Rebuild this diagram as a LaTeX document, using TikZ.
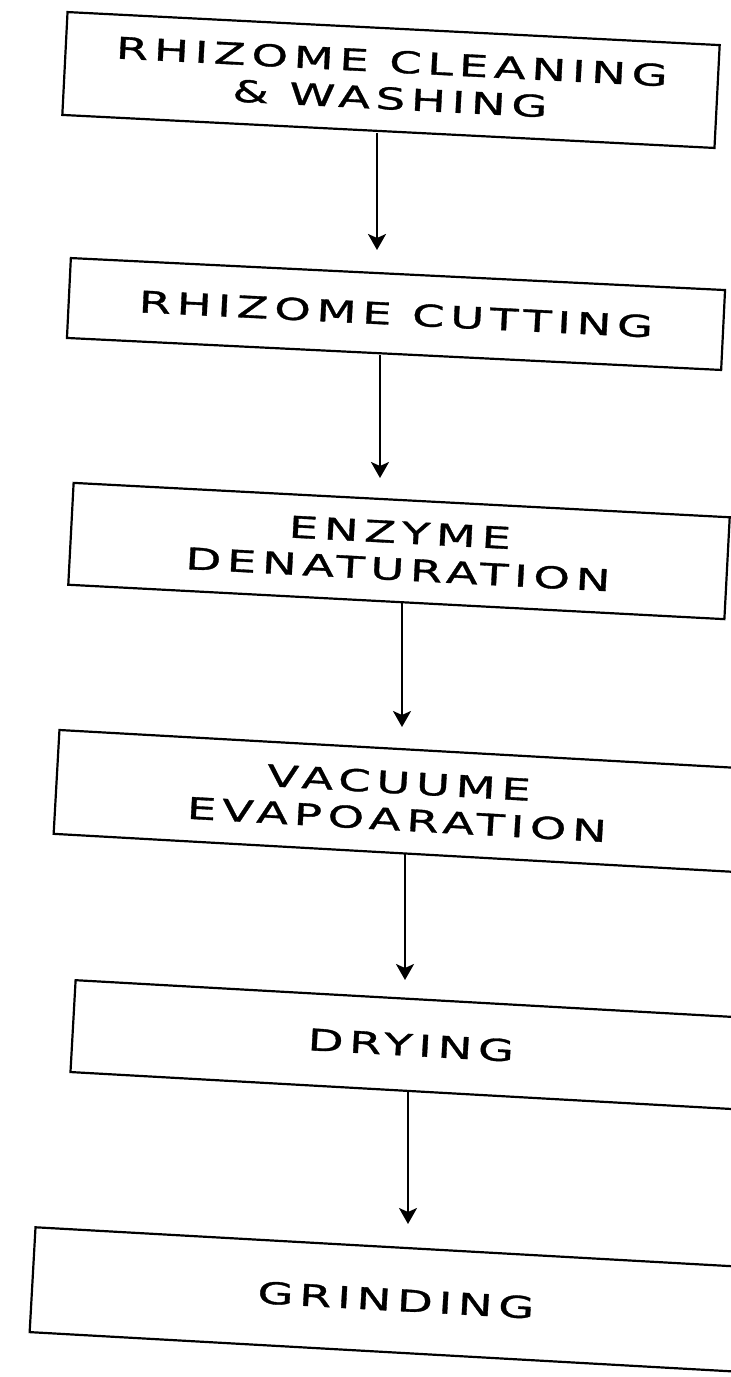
\documentclass[tikz,border=0pt]{standalone}
\usepackage{fontspec}
\usepackage{tikz}
\usetikzlibrary{arrows.meta}
\newfontfamily\procfont[FakeStretch=1.55,LetterSpace=19,FakeBold=1.1]{DejaVu Sans}
\tikzset{
  procnode/.style = {align=center, inner sep=0pt, text centered,
    font=\procfont\fontsize{15}{18.5}\selectfont},
  proc_box/.style = {procnode, rectangle, draw=black, line width=1.1pt},% etape du procede
  proc_arr/.style = {line width=1.2pt}% fleche entre deux etapes
}

\begin{document}
\begin{tikzpicture}[x=0.5pt, y=-0.5pt, ->, >={Stealth[length=8pt,width=9pt,inset=2pt]}]
\useasboundingbox (0,0) rectangle (730,1377);
\node [proc_box, minimum width=326.5pt, minimum height=51.5pt, rotate=-2.9]
  (clean) at (391,80) {RHIZOME CLEANING\\\& WASHING};
\node [proc_box, minimum width=327.5pt, minimum height=40pt, rotate=-2.8]
  (cut) at (396,314) {RHIZOME CUTTING};
\node [proc_box, minimum width=328.5pt, minimum height=51pt, rotate=-3.0]
  (enzyme) at (399,551) {ENZYME\\DENATURATION};
\node [proc_box, minimum width=342pt, minimum height=52pt, rotate=-3.2]
  (vacuum) at (398,801) {VACUUME\\EVAPOARATION};
\node [proc_box, minimum width=338.5pt, minimum height=46pt, rotate=-3.2]
  (dry) at (411,1045) {DRYING};
\node [proc_box, minimum width=364pt, minimum height=52.5pt, rotate=-3.2]
  (grind) at (396,1300) {GRINDING};

\coordinate (t_cut) at (377,250);
\coordinate (t_enzyme) at (380,478);
\coordinate (t_vacuum) at (402,727);
\coordinate (t_dry) at (405,980);
\coordinate (t_grind) at (408,1224);

\draw [proc_arr] (clean.south -| t_cut) -- (t_cut);
\draw [proc_arr] (cut.south -| t_enzyme) -- (t_enzyme);
\draw [proc_arr] (enzyme.south -| t_vacuum) -- (t_vacuum);
\draw [proc_arr] (vacuum.south -| t_dry) -- (t_dry);
\draw [proc_arr] (dry.south -| t_grind) -- (t_grind);
\end{tikzpicture}
\end{document}
